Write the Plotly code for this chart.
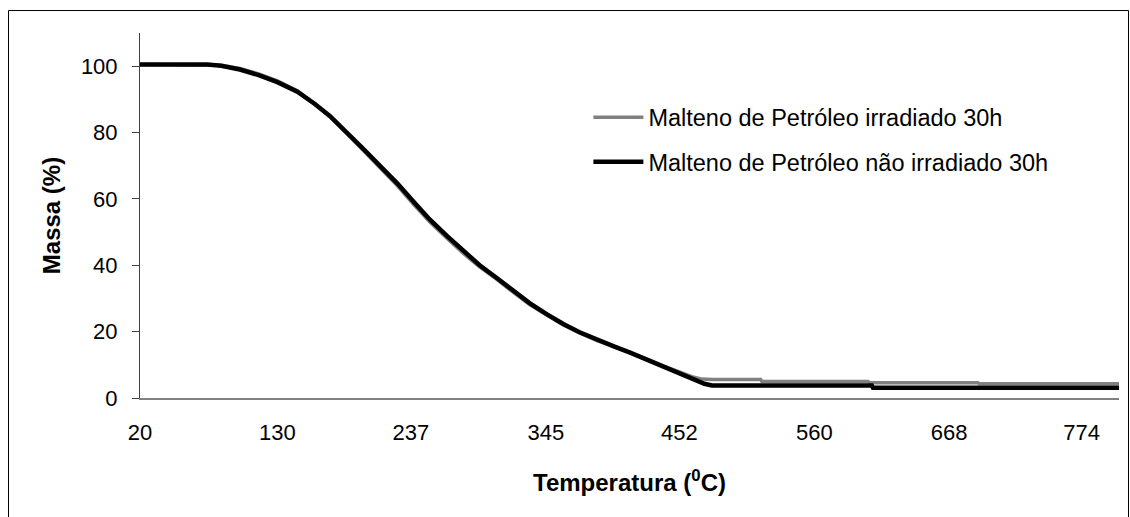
import plotly.graph_objects as go

# Temperature (°C) and mass (%)
temp_nao = [20, 74, 85, 100, 115, 130, 146, 160, 172, 185, 199, 211, 226, 240, 252, 266, 279, 292, 306,
            319, 332, 346, 359, 372, 386, 400, 413, 426, 439, 452, 466, 472, 478, 606, 607, 805]
massa_nao = [100.5, 100.5, 100.1, 99.0, 97.3, 95.2, 92.3, 88.6, 85.0, 80.4, 75.0, 70.4, 64.7, 58.8, 53.8,
             48.8, 44.2, 40.0, 36.1, 32.2, 28.6, 25.2, 22.3, 19.8, 17.5, 15.5, 13.6, 11.6, 9.5, 7.3, 5.2,
             4.3, 3.8, 3.8, 3.1, 3.1]

temp_irr = [20, 74, 85, 100, 115, 130, 146, 160, 172, 185, 199, 211, 226, 240, 252, 266, 279, 292, 306,
            319, 332, 346, 359, 372, 386, 400, 413, 426, 439, 452, 462, 470, 478, 517, 518, 603, 604, 691,
            692, 805]
massa_irr = [100.5, 100.5, 100.3, 99.3, 97.7, 95.6, 92.6, 88.7, 84.9, 80.0, 74.5, 69.8, 64.0, 58.0, 53.1,
             48.1, 43.6, 39.5, 35.7, 31.8, 28.2, 24.9, 22.0, 19.6, 17.3, 15.4, 13.6, 11.7, 9.7, 7.8, 6.4,
             5.7, 5.6, 5.6, 5.0, 5.0, 4.6, 4.6, 4.3, 4.3]

x_ticks = [20, 130, 237, 345, 452, 560, 668, 774]
y_ticks = [0, 20, 40, 60, 80, 100]

series_names = ["Malteno de Petróleo irradiado 30h", "Malteno de Petróleo não irradiado 30h"]

FONT = "Arial, Liberation Sans, sans-serif"

fig = go.Figure()
fig.add_trace(go.Scatter(x=temp_irr, y=massa_irr, mode="lines", name=series_names[0],
                         line=dict(color="#808080", width=3.5), legendgroup="a"))
fig.add_trace(go.Scatter(x=temp_nao, y=massa_nao, mode="lines", name=series_names[1],
                         line=dict(color="#000000", width=4.5), legendgroup="b"))

fig.update_layout(
    width=1130, height=517,
    margin=dict(l=140, r=11, t=33, b=119),
    paper_bgcolor="white", plot_bgcolor="white",
    font=dict(family=FONT, color="black", size=22),
    showlegend=True,
    legend=dict(x=0.458, y=0.707, xanchor="left", yanchor="middle",
                font=dict(size=23.5, family=FONT, color="black"),
                bgcolor="rgba(0,0,0,0)", traceorder="grouped", tracegroupgap=11,
                itemwidth=50),
    xaxis=dict(range=[20, 804], tickmode="array", tickvals=x_ticks,
               ticktext=[str(v) for v in x_ticks],
               showgrid=False, zeroline=False, showline=True, linecolor="#808080", linewidth=1.5,
               ticks="", ticklabelstandoff=14,
               title=dict(text="<b>Temperatura (<sup>0</sup>C)</b>", font=dict(size=24, family=FONT), standoff=30)),
    yaxis=dict(range=[0, 110], tickmode="array", tickvals=y_ticks,
               showgrid=False, zeroline=False, showline=True, linecolor="#404040", linewidth=1,
               ticks="outside", ticklen=7, tickcolor="#404040", tickwidth=1, ticklabelstandoff=10,
               title=dict(text="<b>Massa (%)</b>", font=dict(size=24, family=FONT), standoff=13)),
)

# outer frame of the chart
fig.add_shape(type="rect", xref="paper", yref="paper",
              x0=(8.5 - 140) / 979, x1=(1128.5 - 140) / 979,
              y0=(398.5 - 530) / 365.5, y1=(398.5 - 10.5) / 365.5,
              line=dict(color="#000000", width=1), fillcolor="rgba(0,0,0,0)", layer="below")

fig.write_html("out.html")
